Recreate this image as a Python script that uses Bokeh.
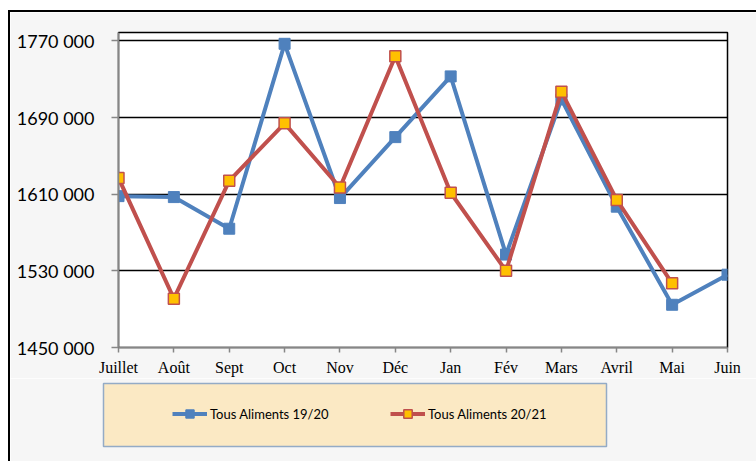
from bokeh.plotting import figure
from bokeh.layouts import column, row
from bokeh.models import (ColumnDataSource, FixedTicker, Legend, LegendItem, Range1d)
from bokeh.embed import file_html
from bokeh.resources import INLINE

months = ["Juillet", "Août", "Sept", "Oct", "Nov", "Déc", "Jan", "Fév",
          "Mars", "Avril", "Mai", "Juin"]
serie_1920 = [1608000, 1607000, 1574000, 1767000, 1606000, 1669600, 1733000,
              1547000, 1709000, 1597000, 1494600, 1526000]
serie_2021 = [1627000, 1501000, 1624000, 1684000, 1617000, 1754000, 1611500,
              1530000, 1717000, 1604000, 1517000]
y_ticks = [1450000, 1530000, 1610000, 1690000, 1770000]
y_tick_labels = ["1450 000", "1530 000", "1610 000", "1690 000", "1770 000"]
name_1920 = "Tous Aliments 19/20"
name_2021 = "Tous Aliments 20/21"

BLUE = "#4f81bd"
RED = "#c0504d"
GOLD = "#ffc000"
BG = "#f6f6f6"

src1 = ColumnDataSource(dict(x=list(range(len(serie_1920))), y=serie_1920))
src2 = ColumnDataSource(dict(x=list(range(len(serie_2021))), y=serie_2021))

# ---------------- main chart ----------------
p = figure(width=746, height=366, output_backend="svg", toolbar_location=None,
           x_range=Range1d(0, len(months) - 1), y_range=Range1d(1450000, 1778800),
           min_border_left=108, min_border_right=29, min_border_top=20,
           min_border_bottom=31)
p.border_fill_color = BG
p.background_fill_color = "white"
p.outline_line_color = "black"
p.outline_line_width = 1.5

p.line("x", "y", source=src1, line_color=BLUE, line_width=4)
p.scatter("x", "y", source=src1, marker="square", size=11,
          fill_color=BLUE, line_color=BLUE, line_width=1)
p.line("x", "y", source=src2, line_color=RED, line_width=4)
p.scatter("x", "y", source=src2, marker="square", size=11,
          fill_color=GOLD, line_color=RED, line_width=1.5)

p.yaxis.ticker = FixedTicker(ticks=y_ticks)
p.yaxis.major_label_overrides = {t: l for t, l in zip(y_ticks, y_tick_labels)}
p.yaxis.major_label_text_font = "Lato"
p.yaxis.major_label_text_font_size = "18px"
p.yaxis.major_label_text_color = "black"
p.yaxis.major_label_standoff = 17
p.yaxis.axis_line_color = "#868686"
p.yaxis.axis_line_width = 1.5
p.yaxis.major_tick_line_color = "#868686"
p.yaxis.major_tick_line_width = 1.5
p.yaxis.major_tick_out = 7
p.yaxis.major_tick_in = 0
p.yaxis.minor_tick_line_color = None

p.xaxis.ticker = FixedTicker(ticks=list(range(len(months))))
p.xaxis.major_label_overrides = {i: m for i, m in enumerate(months)}
p.xaxis.major_label_text_font = "Liberation Serif"
p.xaxis.major_label_text_font_size = "16px"
p.xaxis.major_label_text_color = "black"
p.xaxis.major_label_standoff = 6
p.xaxis.axis_line_color = "#868686"
p.xaxis.axis_line_width = 1.5
p.xaxis.major_tick_line_color = "#868686"
p.xaxis.major_tick_line_width = 1.5
p.xaxis.major_tick_out = 5
p.xaxis.major_tick_in = 0
p.xaxis.minor_tick_line_color = None

p.xgrid.grid_line_color = None
p.ygrid.grid_line_color = "black"
p.ygrid.grid_line_width = 1.5

# ---------------- legend strip ----------------
q = figure(width=746, height=83, output_backend="svg", toolbar_location=None,
           x_axis_type=None, y_axis_type=None,
           x_range=Range1d(-2, -1), y_range=Range1d(-2, -1),
           min_border_left=93, min_border_right=150, min_border_top=5,
           min_border_bottom=15)
q.border_fill_color = BG
q.background_fill_color = "#fbe9c4"
q.outline_line_color = "#94abc6"
q.outline_line_width = 1.5
q.grid.grid_line_color = None

# same series (out of this strip's view), used only for the legend keys
k1 = q.line("x", "y", source=src1, line_color=BLUE, line_width=4)
s1 = q.scatter("x", "y", source=src1, marker="square",
               fill_color=BLUE, line_color=BLUE, line_width=1)
k2 = q.line("x", "y", source=src2, line_color=RED, line_width=4)
s2 = q.scatter("x", "y", source=src2, marker="square",
               fill_color=GOLD, line_color=RED, line_width=1.5)

legend = Legend(items=[LegendItem(label=name_1920, renderers=[k1, s1]),
                       LegendItem(label=name_2021, renderers=[k2, s2])],
                orientation="horizontal", location=(69, 22),
                background_fill_alpha=0, border_line_color=None,
                padding=0, margin=0, spacing=30,
                glyph_width=35, glyph_height=21, label_standoff=3,
                label_width=150, label_height=21,
                label_text_font="Lato", label_text_font_size="13px",
                label_text_color="black")
q.add_layout(legend, "center")

layout = column(row(p), row(q), spacing=0)
layout.margin = (10, 0, 0, 8)
layout.styles = {"border-left": "2px solid black", "border-top": "2px solid black"}

open("out.html", "w").write(file_html(layout, INLINE))
